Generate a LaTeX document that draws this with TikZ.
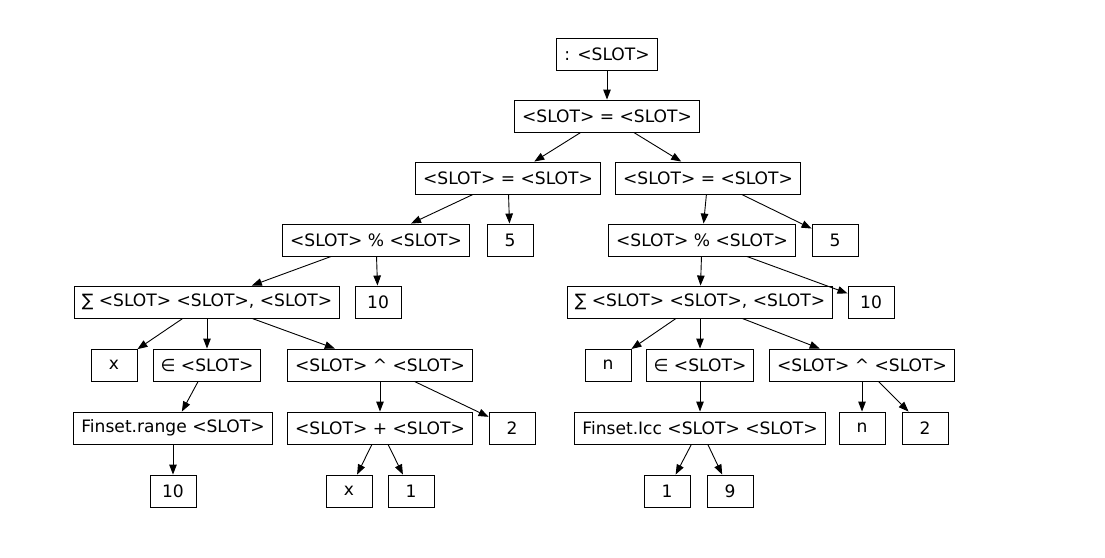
\documentclass[tikz,border=0pt]{standalone}
\usepackage{fontspec}
\setmainfont{DejaVu Sans}
\usetikzlibrary{arrows.meta}
\tikzstyle{slotbox} = [rectangle, draw=black, line width=0.9pt, minimum width=46pt, minimum height=32pt, inner xsep=7.5pt, text centered, font=\fontsize{17.1}{20}\selectfont]
\tikzstyle{arrow} = [line width=0.9pt, -{Triangle[length=10pt,width=7.5pt]}]

\begin{document}
\begin{tikzpicture}[x=1pt, y=-1pt]
\useasboundingbox (0,0) rectangle (1105,557);
% top
\node (root) [slotbox] at (607,54) {: <SLOT>};
\node (eq) [slotbox] at (607,116) {<SLOT> = <SLOT>};
\node (eqL) [slotbox] at (508,178) {<SLOT> = <SLOT>};
\node (eqR) [slotbox] at (708,178) {<SLOT> = <SLOT>};
% left branch
\node (modL) [slotbox] at (376,240) {<SLOT> \% <SLOT>};
\node (fiveL) [slotbox] at (510,240) {5};
\node (sumL) [slotbox] at (207,302) {∑ <SLOT> <SLOT>, <SLOT>};
\node (tenL) [slotbox] at (378,302) {10};
\node (xL) [slotbox] at (114,365) {x};
\node (inL) [slotbox] at (207,365) {∈ <SLOT>};
\node (powL) [slotbox] at (380,365) {<SLOT> \^{} <SLOT>};
\node (range) [slotbox] at (173,428) {Finset.range <SLOT>};
\node (plus) [slotbox] at (380,428) {<SLOT> + <SLOT>};
\node (twoL) [slotbox] at (512,428) {2};
\node (tenR) [slotbox] at (173,491) {10};
\node (xP) [slotbox] at (349,491) {x};
\node (oneP) [slotbox] at (411,491) {1};
% right branch
\node (modR) [slotbox] at (702,240) {<SLOT> \% <SLOT>};
\node (fiveR) [slotbox] at (835,240) {5};
\node (sumR) [slotbox] at (700,302) {∑ <SLOT> <SLOT>, <SLOT>};
\node (tenS) [slotbox] at (871,302) {10};
\node (nR) [slotbox] at (608,365) {n};
\node (inR) [slotbox] at (700,365) {∈ <SLOT>};
\node (powR) [slotbox] at (862,365) {<SLOT> \^{} <SLOT>};
\node (icc) [slotbox] at (700,428) {Finset.Icc <SLOT> <SLOT>};
\node (nP) [slotbox] at (862,428) {n};
\node (twoR) [slotbox] at (925,428) {2};
\node (oneI) [slotbox] at (667,491) {1};
\node (nineI) [slotbox] at (730,491) {9};

\draw[arrow] (root) -- (eq);
\draw[arrow] (eq) -- (eqL);
\draw[arrow] (eq) -- (eqR);
\draw[arrow] (eqL) -- (modL);
\draw[arrow] (eqL) -- (fiveL);
\draw[arrow] (modL) -- (sumL);
\draw[arrow] (modL) -- (tenL);
\draw[arrow] (sumL) -- (xL);
\draw[arrow] (sumL) -- (inL);
\draw[arrow] (sumL) -- (powL);
\draw[arrow] (inL) -- (range);
\draw[arrow] (range) -- (tenR);
\draw[arrow] (powL) -- (plus);
\draw[arrow] (powL) -- (twoL);
\draw[arrow] (plus) -- (xP);
\draw[arrow] (plus) -- (oneP);
\draw[arrow] (eqR) -- (modR);
\draw[arrow] (eqR) -- (fiveR);
\draw[arrow] (modR) -- (sumR);
\draw[arrow] (modR) -- (tenS);
\draw[arrow] (sumR) -- (nR);
\draw[arrow] (sumR) -- (inR);
\draw[arrow] (sumR) -- (powR);
\draw[arrow] (inR) -- (icc);
\draw[arrow] (icc) -- (oneI);
\draw[arrow] (icc) -- (nineI);
\draw[arrow] (powR) -- (nP);
\draw[arrow] (powR) -- (twoR);
\end{tikzpicture}
\end{document}
